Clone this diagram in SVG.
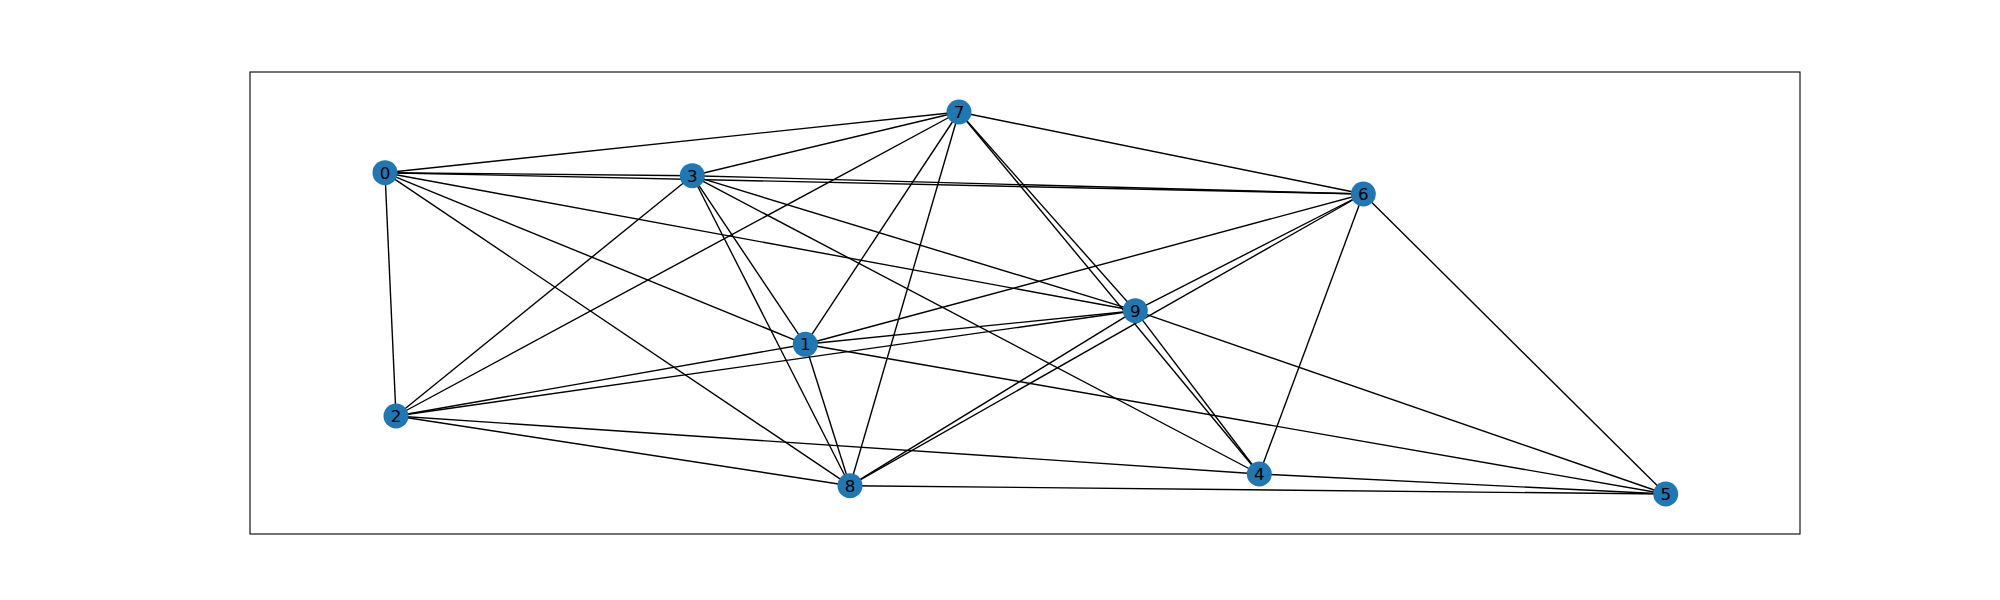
<svg xmlns="http://www.w3.org/2000/svg" width="2000" height="600" viewBox="0 0 2000 600">
<style>
.e{stroke:#000;stroke-width:1.4;fill:none}
.n circle{fill:#1f77b4}
.n text{font-family:"DejaVu Sans",sans-serif;font-size:16.7px;fill:#000;text-anchor:middle;dominant-baseline:central}
</style>
<rect x="0" y="0" width="2000" height="600" fill="#fff"/>
<rect x="250" y="72" width="1550" height="462" fill="none" stroke="#000" stroke-width="1.1"/>
<g id="edges" class="e">
<line x1="385" y1="172.7" x2="692.3" y2="175.7"/>
<line x1="385" y1="172.7" x2="1363.3" y2="194"/>
<line x1="385" y1="172.7" x2="959" y2="112"/>
<line x1="385" y1="172.7" x2="1135.3" y2="310.7"/>
<line x1="385" y1="172.7" x2="805.3" y2="344.3"/>
<line x1="385" y1="172.7" x2="850" y2="485.7"/>
<line x1="385" y1="172.7" x2="396" y2="416"/>
<line x1="692.3" y1="175.7" x2="959" y2="112"/>
<line x1="692.3" y1="175.7" x2="1363.3" y2="194"/>
<line x1="692.3" y1="175.7" x2="1135.3" y2="310.7"/>
<line x1="692.3" y1="175.7" x2="805.3" y2="344.3"/>
<line x1="692.3" y1="175.7" x2="850" y2="485.7"/>
<line x1="692.3" y1="175.7" x2="1259.3" y2="474"/>
<line x1="692.3" y1="175.7" x2="396" y2="416"/>
<line x1="959" y1="112" x2="1363.3" y2="194"/>
<line x1="959" y1="112" x2="1135.3" y2="310.7"/>
<line x1="959" y1="112" x2="1259.3" y2="474"/>
<line x1="959" y1="112" x2="805.3" y2="344.3"/>
<line x1="959" y1="112" x2="850" y2="485.7"/>
<line x1="959" y1="112" x2="396" y2="416"/>
<line x1="1363.3" y1="194" x2="1135.3" y2="310.7"/>
<line x1="1363.3" y1="194" x2="805.3" y2="344.3"/>
<line x1="1363.3" y1="194" x2="850" y2="485.7"/>
<line x1="1363.3" y1="194" x2="1259.3" y2="474"/>
<line x1="1363.3" y1="194" x2="1665.7" y2="494"/>
<line x1="1135.3" y1="310.7" x2="805.3" y2="344.3"/>
<line x1="1135.3" y1="310.7" x2="396" y2="416"/>
<line x1="1135.3" y1="310.7" x2="850" y2="485.7"/>
<line x1="1135.3" y1="310.7" x2="1259.3" y2="474"/>
<line x1="1135.3" y1="310.7" x2="1665.7" y2="494"/>
<line x1="805.3" y1="344.3" x2="396" y2="416"/>
<line x1="805.3" y1="344.3" x2="850" y2="485.7"/>
<line x1="805.3" y1="344.3" x2="1665.7" y2="494"/>
<line x1="396" y1="416" x2="850" y2="485.7"/>
<line x1="396" y1="416" x2="1259.3" y2="474"/>
<line x1="850" y1="485.7" x2="1665.7" y2="494"/>
<line x1="1259.3" y1="474" x2="1665.7" y2="494"/>
</g>
<g id="node0" class="n"><circle cx="385" cy="172.7" r="12.5"/><text x="385" y="172.7">0</text></g>
<g id="node1" class="n"><circle cx="805.3" cy="344.3" r="12.5"/><text x="805.3" y="344.3">1</text></g>
<g id="node2" class="n"><circle cx="396" cy="416" r="12.5"/><text x="396" y="416">2</text></g>
<g id="node3" class="n"><circle cx="692.3" cy="175.7" r="12.5"/><text x="692.3" y="175.7">3</text></g>
<g id="node4" class="n"><circle cx="1259.3" cy="474" r="12.5"/><text x="1259.3" y="474">4</text></g>
<g id="node5" class="n"><circle cx="1665.7" cy="494" r="12.5"/><text x="1665.7" y="494">5</text></g>
<g id="node6" class="n"><circle cx="1363.3" cy="194" r="12.5"/><text x="1363.3" y="194">6</text></g>
<g id="node7" class="n"><circle cx="959" cy="112" r="12.5"/><text x="959" y="112">7</text></g>
<g id="node8" class="n"><circle cx="850" cy="485.7" r="12.5"/><text x="850" y="485.7">8</text></g>
<g id="node9" class="n"><circle cx="1135.3" cy="310.7" r="12.5"/><text x="1135.3" y="310.7">9</text></g>
</svg>
